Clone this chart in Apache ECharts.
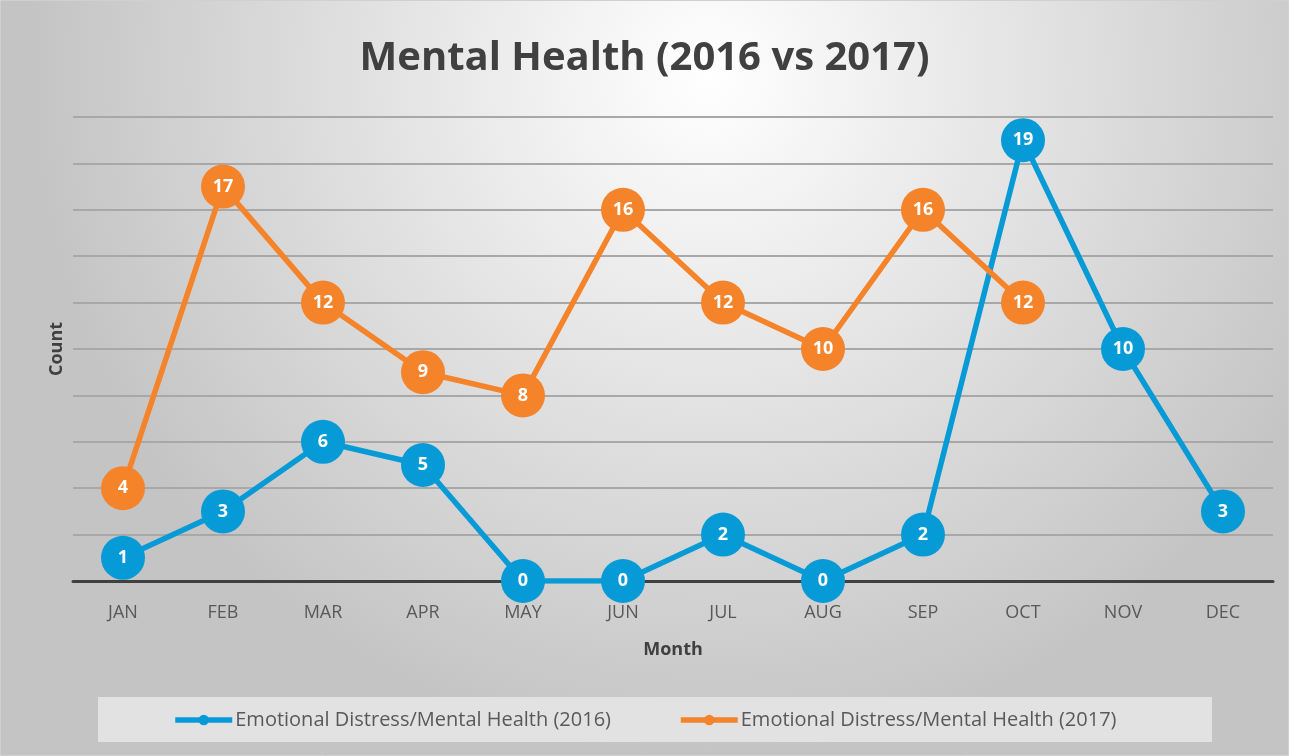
<!DOCTYPE html>
<html>
<head>
<meta charset="utf-8">
<script src="https://cdn.jsdelivr.net/npm/echarts@6/dist/echarts.min.js"></script>
<style>
  html, body { margin: 0; padding: 0; }
  #chart { width: 1289px; height: 756px; }
</style>
</head>
<body>
<div id="chart"></div>
<script>
// chart data
var months = ['JAN', 'FEB', 'MAR', 'APR', 'MAY', 'JUN', 'JUL', 'AUG', 'SEP', 'OCT', 'NOV', 'DEC'];
var counts2016 = [1, 3, 6, 5, 0, 0, 2, 0, 2, 19, 10, 3];
var counts2017 = [4, 17, 12, 9, 8, 16, 12, 10, 16, 12, null, null];
var seriesNames = ['Emotional Distress/Mental Health (2016)', 'Emotional Distress/Mental Health (2017)'];

var blue = '#069bd6';
var orange = '#f5832a';
var textGray = '#595959';

var chart = echarts.init(document.getElementById('chart'));

function lineSeries(name, data, color) {
  return {
    name: name,
    type: 'line',
    data: data,
    symbol: 'circle',
    symbolSize: 44,
    z: 3,
    itemStyle: { color: color },
    lineStyle: { color: color, width: 5.5 },
    label: {
      show: true,
      position: 'inside',
      color: '#fff',
      fontFamily: 'Open Sans',
      fontWeight: 'bold',
      fontSize: 18
    },
    emphasis: { disabled: true }
  };
}

var option = {
  animation: false,
  graphic: [
    {
      type: 'rect',
      z: -100,
      silent: true,
      shape: { x: 0.5, y: 0.5, width: 1288, height: 755 },
      style: {
        fill: {
          type: 'radial', x: 0.55, y: 0.1, r: 0.9,
          colorStops: [
            { offset: 0, color: '#ffffff' },
            { offset: 1, color: '#c4c4c4' }
          ]
        },
        stroke: '#d0d0d0',
        lineWidth: 1
      }
    },
    {
      type: 'rect',
      z: -90,
      silent: true,
      shape: { x: 98, y: 697, width: 1114, height: 45 },
      style: { fill: '#e2e2e2' }
    }
  ],
  title: {
    text: 'Mental Health (2016 vs 2017)',
    left: 'center',
    top: 34,
    textStyle: {
      fontFamily: 'Open Sans',
      fontWeight: 'bold',
      fontSize: 40,
      color: '#404040'
    }
  },
  legend: {
    bottom: 21,
    left: 'center',
    itemWidth: 57,
    itemHeight: 13,
    itemGap: 67,
    lineStyle: { width: 5.5 },
    textStyle: { fontFamily: 'Open Sans', fontSize: 20, color: textGray, padding: [0, 0, 0, -2] },
    data: seriesNames
  },
  grid: { left: 73, right: 16, top: 117, bottom: 175 },
  xAxis: {
    type: 'category',
    data: months,
    name: 'Month',
    nameLocation: 'middle',
    nameGap: 60,
    nameTextStyle: { fontFamily: 'Open Sans', fontWeight: 'bold', fontSize: 18, color: '#404040' },
    axisLine: { lineStyle: { color: '#404040', width: 3 } },
    axisTick: { show: false },
    axisLabel: { fontFamily: 'Open Sans', fontSize: 18, color: textGray, margin: 23 }
  },
  yAxis: {
    type: 'value',
    min: 0,
    max: 20,
    interval: 2,
    name: 'Count',
    nameLocation: 'middle',
    nameGap: 7,
    nameTextStyle: { fontFamily: 'Open Sans', fontWeight: 'bold', fontSize: 18, color: '#404040' },
    axisLine: { show: false },
    axisTick: { show: false },
    axisLabel: { show: false },
    splitLine: { lineStyle: { color: '#a8a8a8', width: 2 } }
  },
  series: [
    lineSeries(seriesNames[0], counts2016, blue),
    lineSeries(seriesNames[1], counts2017, orange)
  ]
};

chart.setOption(option);
</script>
</body>
</html>
